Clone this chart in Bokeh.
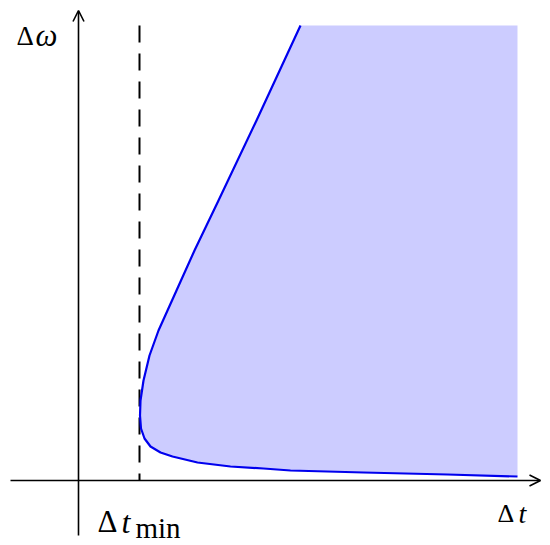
from bokeh.plotting import figure
from bokeh.models import Arrow, OpenHead, Range1d
from bokeh.core.properties import value
from bokeh.embed import file_html
from bokeh.resources import INLINE

# Boundary curve of the region (Δt, Δω), arbitrary units, from top end to bottom end
dt = [4.44, 3.56, 2.80, 2.32, 1.96, 1.60, 1.42, 1.30, 1.24, 1.23, 1.25, 1.32,
      1.44, 1.64, 1.88, 2.38, 3.04, 3.70, 4.24, 5.70, 7.38, 8.78]
dw = [9.10, 7.20, 5.60, 4.60, 3.80, 3.00, 2.50, 2.00, 1.60, 1.30, 1.04, 0.84,
      0.68, 0.56, 0.48, 0.36, 0.28, 0.24, 0.20, 0.16, 0.12, 0.08]

dt_min = 1.22

# axis extents
x_axis = [-1.36, 9.24]
y_axis = [-1.10, 9.40]

FONT = "Liberation Serif"

p = figure(width=546, height=545, output_backend="svg", toolbar_location=None,
           x_range=Range1d(-1.56, 9.36), y_range=Range1d(-1.30, 9.60),
           min_border=0)
p.axis.visible = False
p.grid.visible = False
p.outline_line_color = None
p.background_fill_color = "white"

# shaded region
top = dw[0]
fill_x = dt + [dt[-1], dt[0]]
fill_y = dw + [top, top]
p.patch(fill_x, fill_y, fill_color="#ccccff", line_color=None)

# dashed Δt_min line (drawn from top downwards)
p.line([dt_min, dt_min], [top, 0], line_color="black", line_width=2, line_dash="17 11")

# boundary curve
p.line(dt, dw, line_color="#0000ee", line_width=2.2, line_join="round")

# axes with arrows
p.add_layout(Arrow(end=OpenHead(size=11, line_width=1.6, line_color="black"),
                   x_start=x_axis[0], y_start=0, x_end=x_axis[1], y_end=0,
                   line_width=1.6, line_color="black"))
p.add_layout(Arrow(end=OpenHead(size=11, line_width=1.6, line_color="black"),
                   x_start=0, y_start=y_axis[0], x_end=0, y_end=y_axis[1],
                   line_width=1.6, line_color="black"))

# labels
def txt(x, y, s, size, style="normal"):
    p.text(x=[x], y=[y], text=[s], text_font=value(FONT), text_font_size=f"{size}px",
           text_font_style=style, text_align="left", text_baseline="alphabetic",
           text_color="black")

# Δω
txt(-1.24, 8.90, "Δ", 27)
txt(-0.86, 8.90, "ω", 31, "italic")
# Δt
txt(8.38, -0.66, "Δ", 26)
txt(8.80, -0.66, "t", 28, "italic")
# Δt_min
txt(0.38, -0.82, "Δ", 31)
txt(0.86, -0.82, "t", 32, "italic")
txt(1.14, -0.95, "min", 29)

open("out.html", "w").write(file_html(p, INLINE))
